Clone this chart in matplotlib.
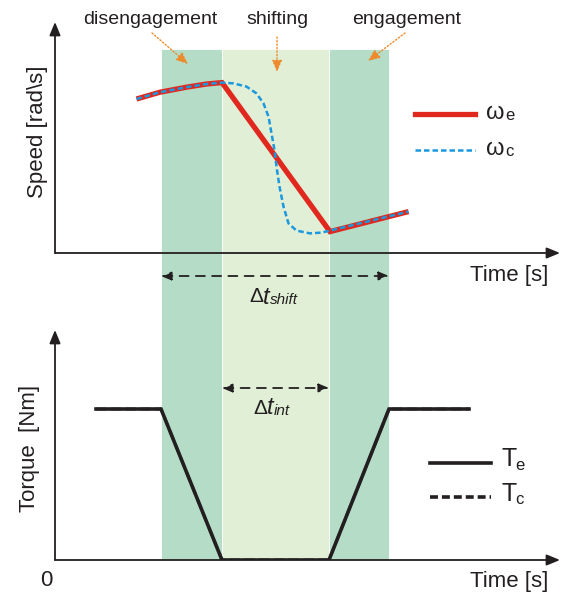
import matplotlib
matplotlib.use('Agg')
import matplotlib.pyplot as plt
from matplotlib.lines import Line2D

plt.rcParams['font.family'] = ['Liberation Sans', 'DejaVu Sans']

# ---------------- data (time in s, schematic units) ----------------
phase_names = ['disengagement', 'shifting', 'engagement']
phase_edges = [2.12, 3.34, 5.48, 6.68]

t_engine = [1.63, 2.10, 2.63, 3.03, 3.34, 5.50, 7.07]
w_engine = [7.70, 8.04, 8.29, 8.45, 8.52, 1.07, 2.07]

t_clutch = [1.63, 2.10, 2.63, 3.03, 3.34, 3.57, 3.83, 4.03, 4.17, 4.27, 4.33,
            4.39, 4.43, 4.49, 4.57, 4.67, 4.83, 5.10, 5.33, 5.50, 7.07]
w_clutch = [7.70, 8.04, 8.29, 8.45, 8.52, 8.48, 8.32, 7.98, 7.48, 6.82, 5.98,
            5.15, 4.32, 3.32, 2.32, 1.48, 1.12, 0.98, 1.02, 1.12, 2.07]

t_torque = [0.82, 2.12, 3.34, 5.48, 6.68, 8.28]
T_engine = [7.55, 7.55, 0.0, 0.0, 7.55, 7.55]
T_clutch = [7.55, 7.55, 0.0, 0.0, 7.55, 7.55]

# ---------------- figure ----------------
W, H = 562, 595
fig = plt.figure(figsize=(W / 100, H / 100), dpi=100)

def frect(x0, y0, x1, y1):
    return [x0 / W, 1 - y1 / H, (x1 - x0) / W, (y1 - y0) / H]

def ftext(x, y, s, **kw):
    return fig.text(x / W, 1 - y / H, s, **kw)

def fpx(x, y):
    return (x, H - y)

DARK = '#b4dcc7'
LIGHT = '#e1efd6'
AXC = '#231f20'
ORANGE = '#ee8a2b'
RED = '#e0281f'
BLUE = '#1b98de'

bg = fig.add_axes(frect(55, 0, 560, 595))
bg.set_xlim(0, 10.1)
bg.set_ylim(H, 0)
bg.axis('off')

ax1 = fig.add_axes(frect(55, 22, 560, 253))
ax1.set_xlim(0, 10.1)
ax1.set_ylim(0, 11.55)
ax1.axis('off')
ax1.patch.set_alpha(0)

ax2 = fig.add_axes(frect(55, 330, 560, 560))
ax2.set_xlim(0, 10.1)
ax2.set_ylim(0, 11.5)
ax2.axis('off')
ax2.patch.set_alpha(0)

# phase bands
band_colors = [DARK, LIGHT, DARK]
ymin = (H - 560) / H
ymax = (H - 49) / H
for i, c in enumerate(band_colors):
    bg.axvspan(phase_edges[i], phase_edges[i + 1], ymin=ymin, ymax=ymax,
               facecolor=c, edgecolor='white', lw=0.6, zorder=0)

# axes arrows
for ax in (ax1, ax2):
    ap = dict(arrowstyle='-|>,head_length=0.8,head_width=0.33', lw=1.3,
              color=AXC, shrinkA=0, shrinkB=0)
    ax.annotate('', xy=(0, 1), xytext=(0, 0), xycoords='axes fraction',
                textcoords='axes fraction', arrowprops=ap)
    ax.annotate('', xy=(1, 0), xytext=(0, 0), xycoords='axes fraction',
                textcoords='axes fraction', arrowprops=ap)

# speed curves
ax1.plot(t_engine, w_engine, color=RED, lw=3.8, solid_capstyle='butt',
         solid_joinstyle='miter', zorder=3)
ax1.plot(t_clutch, w_clutch, color=BLUE, lw=1.8, dashes=(2.2, 1.2), zorder=4)

# torque curves (Tc lies underneath Te)
ax2.plot(t_torque, T_clutch, color=AXC, lw=2.0, ls='--', zorder=3)
ax2.plot(t_torque, T_engine, color=AXC, lw=2.6, solid_joinstyle='miter', zorder=4)

# phase annotations
lbl_pos = [(150, 20), (277, 20), (407, 20)]
for name, (x, y) in zip(phase_names, lbl_pos):
    ftext(x, y, name, ha='center', va='center', fontsize=14, color=AXC)

arr_kw = dict(arrowstyle='-|>,head_length=0.7,head_width=0.3', lw=1.0,
              ls=(0, (1, 1.5)), color=ORANGE, shrinkA=0, shrinkB=0)
for (x0, y0, x1, y1) in [(152, 33, 188, 64), (277, 37, 277, 72), (405, 33, 368, 61)]:
    bg.annotate('', xy=fpx(x1, y1), xytext=fpx(x0, y0), xycoords='figure pixels',
                textcoords='figure pixels', arrowprops=arr_kw)

# delta t arrows
dkw = dict(arrowstyle='<|-|>,head_length=0.6,head_width=0.25', lw=1.3,
           ls=(0, (5, 4)), color=AXC, shrinkA=0, shrinkB=0)
bg.annotate('', xy=(phase_edges[3], 276), xytext=(phase_edges[0], 276),
            xycoords='data', arrowprops=dkw)
bg.annotate('', xy=(phase_edges[2], 388), xytext=(phase_edges[1], 388),
            xycoords='data', arrowprops=dkw)

ftext(249, 297, '\u0394', fontsize=15, va='center', ha='left', color=AXC)
ftext(263, 297, 't', fontsize=17, va='center', ha='left', style='italic', color=AXC)
ftext(270, 300, 'shift', fontsize=11, va='center', ha='left', style='italic', color=AXC)

ftext(253, 408, '\u0394', fontsize=15, va='center', ha='left', color=AXC)
ftext(267, 408, 't', fontsize=17, va='center', ha='left', style='italic', color=AXC)
ftext(274, 411, 'int', fontsize=11, va='center', ha='left', style='italic', color=AXC)

# axis labels
ftext(37, 132, 'Speed [rad\\s]', rotation=90, ha='center', va='center', fontsize=16, color=AXC)
ftext(29, 448, 'Torque  [Nm]', rotation=90, ha='center', va='center', fontsize=16, color=AXC)
ftext(509, 276, 'Time [s]', ha='center', va='center', fontsize=16, color=AXC)
ftext(509, 581, 'Time [s]', ha='center', va='center', fontsize=16, color=AXC)
ftext(46, 580, '0', ha='center', va='center', fontsize=16, color=AXC)

# legends (manual)
fig.add_artist(Line2D([415 / W, 475 / W], [1 - 114 / H] * 2, color=RED, lw=3.8))
fig.add_artist(Line2D([415 / W, 475 / W], [1 - 150 / H] * 2, color=BLUE, lw=1.8,
                      dashes=(2.2, 1.2)))
ftext(486, 113, '\u03c9', fontsize=17, ha='left', va='center', color=AXC)
ftext(505, 116, 'e', fontsize=12, ha='left', va='center', color=AXC)
ftext(486, 149, '\u03c9', fontsize=17, ha='left', va='center', color=AXC)
ftext(505, 152, 'c', fontsize=12, ha='left', va='center', color=AXC)

fig.add_artist(Line2D([430 / W, 491 / W], [1 - 463 / H] * 2, color=AXC, lw=2.6))
fig.add_artist(Line2D([430 / W, 491 / W], [1 - 497 / H] * 2, color=AXC, lw=2.6,
                      dashes=(2.2, 1.1)))
ftext(501, 459, 'T', fontsize=18, ha='left', va='center', color=AXC)
ftext(515, 465, 'e', fontsize=12, ha='left', va='center', color=AXC)
ftext(501, 494, 'T', fontsize=18, ha='left', va='center', color=AXC)
ftext(515, 500, 'c', fontsize=12, ha='left', va='center', color=AXC)

fig.savefig('out.png', dpi=100)
